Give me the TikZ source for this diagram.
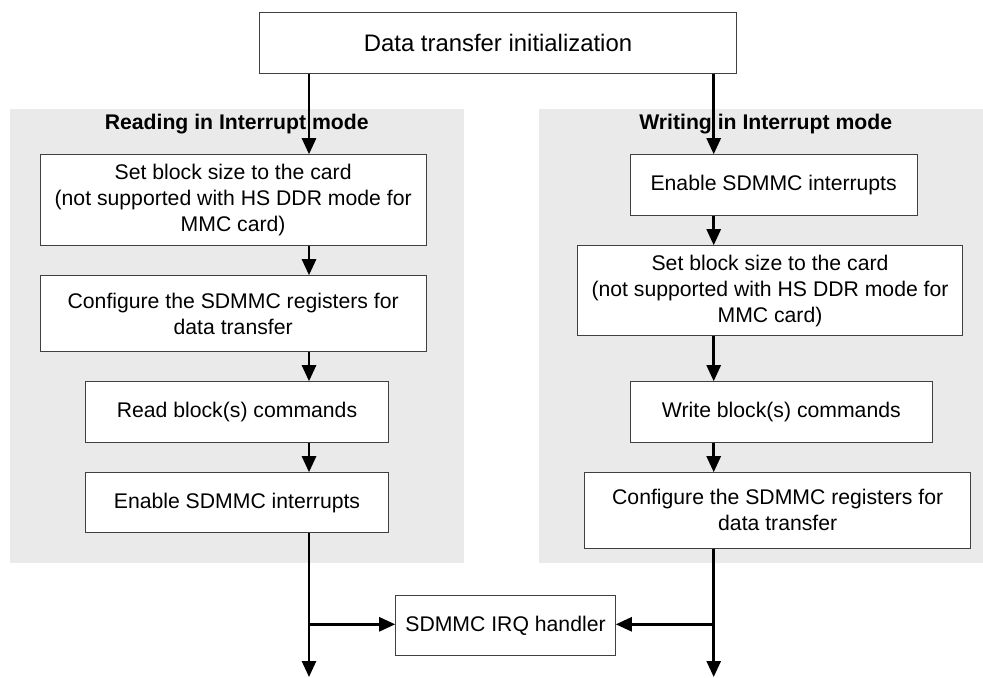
\documentclass[tikz,border=0pt]{standalone}
\usepackage{fontspec}
\setmainfont{Liberation Sans}
\usetikzlibrary{arrows.meta}
\definecolor{panelgray}{RGB}{234,234,234}
\begin{document}
\begin{tikzpicture}[x=0.5pt,y=-0.5pt,
  box/.style={draw=black!75, line width=0.5pt, fill=white, align=center, inner sep=0pt,
              font=\fontsize{10.6}{12.95}\selectfont},
  ptitle/.style={font=\fontsize{10.6}{13}\selectfont\bfseries, anchor=base, inner sep=0pt},
  arr/.style={line width=1.3pt, -{Triangle[length=8pt,width=7pt]}},
  ln/.style={line width=1.3pt}]
\useasboundingbox (0,0) rectangle (983,677);
% panels
\fill[panelgray] (10,109) rectangle (463.7,563);
\fill[panelgray] (539.3,109) rectangle (983,562.5);
\node[ptitle] (lt) at (236.7,129.3) {Reading in Interrupt mode};
\node[ptitle] (rt) at (765.7,129.3) {Writing in Interrupt mode};
% boxes
\node[box, font=\fontsize{11.95}{14}\selectfont, minimum width=238.3pt, minimum height=30.15pt] (top) at (498,42.85) {Data transfer initialization};
\node[box, minimum width=192.85pt, minimum height=45.3pt] (L1) at (233.15,200) {Set block size to the card\\(not supported with HS DDR mode for\\MMC card)};
\node[box, minimum width=192.85pt, minimum height=37.8pt] (L2) at (233.15,313.5) {Configure the SDMMC registers for\\data transfer};
\node[box, minimum width=151.3pt, minimum height=30.15pt] (L3) at (237,411.85) {Read block(s) commands};
\node[box, minimum width=151.3pt, minimum height=30pt] (L4) at (237,502.7) {Enable SDMMC interrupts};
\node[box, minimum width=143.65pt, minimum height=30.15pt] (R1) at (773.65,184.85) {Enable SDMMC interrupts};
\node[box, minimum width=192.7pt, minimum height=45pt] (R2) at (770,290.7) {Set block size to the card\\(not supported with HS DDR mode for\\MMC card)};
\node[box, minimum width=151.35pt, minimum height=30.15pt] (R3) at (781.35,411.85) {Write block(s) commands};
\node[box, minimum width=193pt, minimum height=37.65pt] (R4) at (777.7,510.35) {Configure the SDMMC registers for\\data transfer};
\node[box, minimum width=109.8pt, minimum height=30.2pt] (irq) at (505.5,625.5) {SDMMC IRQ handler};
% guide coordinates
\coordinate (lx) at (309,0);
\coordinate (rx) at (713.7,0);
\coordinate (lend) at (309,677);
\coordinate (rend) at (713.7,677);
\coordinate (lbr) at (309,624.3);
\coordinate (rbr) at (713.7,624.3);
% left flow
\draw[arr] (top.south -| lx) -- (L1.north -| lx);
\draw[arr] (L1.south -| lx) -- (L2.north -| lx);
\draw[arr] (L2.south -| lx) -- (L3.north -| lx);
\draw[arr] (L3.south -| lx) -- (L4.north -| lx);
\draw[arr] (L4.south -| lx) -- (lend);
\draw[arr] (lbr) -- (irq.west |- lbr);
% right flow
\draw[arr] (top.south -| rx) -- (R1.north -| rx);
\draw[arr] (R1.south -| rx) -- (R2.north -| rx);
\draw[arr] (R2.south -| rx) -- (R3.north -| rx);
\draw[arr] (R3.south -| rx) -- (R4.north -| rx);
\draw[arr] (R4.south -| rx) -- (rend);
\draw[arr] (rbr) -- (irq.east |- rbr);
\end{tikzpicture}
\end{document}
